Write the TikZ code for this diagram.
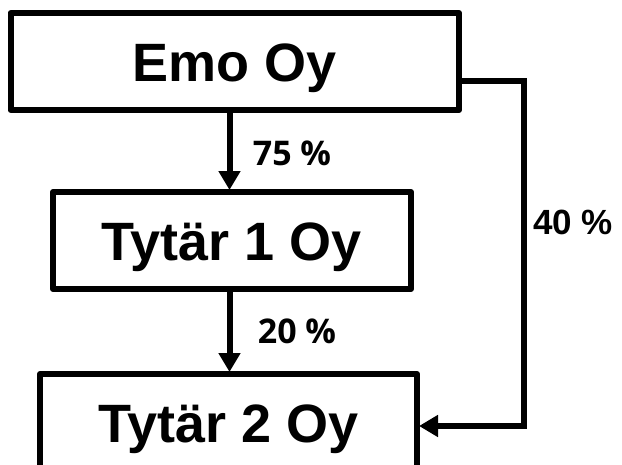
\documentclass[tikz,border=0pt]{standalone}
\usepackage{fontspec}
\setmainfont{Liberation Sans}
\newfontfamily\labfont{Open Sans}
\usetikzlibrary{arrows.meta}
\begin{document}
\begin{tikzpicture}[x=1pt,y=-1pt,
  box/.style={draw,line width=6pt,line join=round,rectangle,inner sep=0pt,outer sep=0pt,
    text height=39pt,text depth=0pt,
    font=\fontsize{54}{60}\selectfont\bfseries},
  conn/.style={line width=6pt,line join=miter,-{Triangle[width=21pt,length=19pt]},shorten >=2pt},
  pct/.style={font=\labfont\fontsize{34}{38}\selectfont\bfseries,inner sep=0pt},
  pctb/.style={font=\fontsize{35}{38}\selectfont\bfseries,inner sep=0pt}]
\useasboundingbox (0,0) rectangle (622,464);
\node[box,minimum width=448.5pt,minimum height=97pt] (emo) at (234.75,61.5) {Emo Oy};
\node[box,minimum width=358pt,minimum height=97pt] (t1) at (232,240.5) {Tytär 1 Oy};
\node[box,minimum width=377pt,minimum height=97pt] (t2) at (228.5,422.5) {Tytär 2 Oy};
\coordinate (ax) at (229.5,0);
\coordinate (c1) at (524,81);
\coordinate (c2) at (524,426);
\draw[conn] (emo.south -| ax) -- (t1.north -| ax);
\draw[conn] (t1.south -| ax) -- (t2.north -| ax);
\draw[conn] (emo.east |- c1) -- (c1) -- (c2) -- (t2.east |- c2);
\node[pct] (l75) at (292,153) {75 \%};
\node[pct] (l20) at (297,331) {20 \%};
\node[pctb] (l40) at (573,222) {40 \%};
\end{tikzpicture}
\end{document}
